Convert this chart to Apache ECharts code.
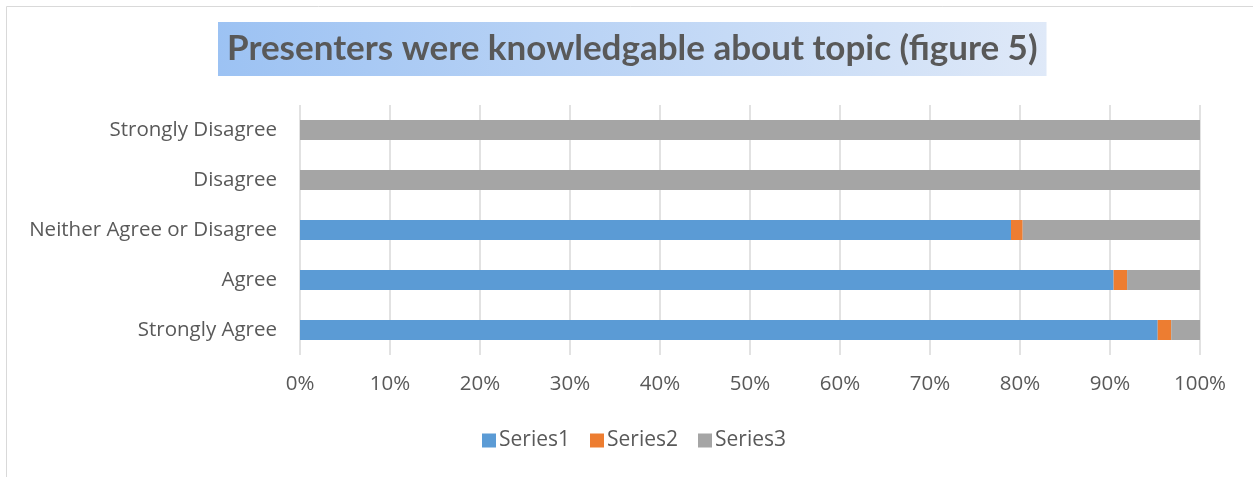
<!DOCTYPE html>
<html>
<head>
<meta charset="utf-8">
<script src="https://cdn.jsdelivr.net/npm/echarts@6/dist/echarts.min.js"></script>
<style>
  html, body { margin: 0; padding: 0; background: #fff; }
  #chart { width: 1253px; height: 477px; }
</style>
</head>
<body>
<div id="chart"></div>
<script>
// Response categories, bottom to top
const categories = ['Strongly Agree', 'Agree', 'Neither Agree or Disagree', 'Disagree', 'Strongly Disagree'];
// Share of responses (%) per category
const series1 = [95.3, 90.4, 79.0, 0, 0];
const series2 = [1.5, 1.5, 1.3, 0, 0];
const series3 = [3.2, 8.1, 19.7, 100, 100];
const seriesNames = ['Series1', 'Series2', 'Series3'];
const seriesColors = ['#5b9bd5', '#ed7d31', '#a5a5a5'];
const titleText = 'Presenters were knowledgable about topic (figure 5)';

const chart = echarts.init(document.getElementById('chart'));
const font = "'Open Sans', 'Noto Sans', sans-serif";

chart.setOption({
  animation: false,
  textStyle: { fontFamily: font },
  graphic: [{
    type: 'rect',
    shape: { x: 6.5, y: 6.5, width: 1300, height: 600 },
    style: { fill: 'none', stroke: '#d9d9d9', lineWidth: 1 },
    silent: true
  }],
  title: {
    text: titleText,
    left: 218,
    top: 22,
    padding: [7, 9, 7, 9],
    backgroundColor: new echarts.graphic.LinearGradient(0, 1, 1, 0, [
      { offset: 0, color: '#9cc2f3' },
      { offset: 1, color: '#dfe9f8' }
    ]),
    textStyle: {
      fontFamily: 'Lato, sans-serif',
      fontWeight: 'bold',
      fontSize: 35,
      lineHeight: 40,
      color: '#595959'
    }
  },
  legend: {
    data: seriesNames,
    left: 477,
    top: 425,
    itemWidth: 14,
    itemHeight: 14,
    itemGap: 20,
    icon: 'rect',
    textStyle: { fontSize: 21, color: '#595959', fontFamily: font, padding: [0, 0, 0, -2] }
  },
  grid: { left: 300, right: 53, top: 105, bottom: 122, containLabel: false },
  xAxis: {
    type: 'value',
    min: 0,
    max: 100,
    interval: 10,
    axisLine: { show: false },
    axisTick: { show: false },
    splitLine: { lineStyle: { color: '#d9d9d9', width: 1.5 } },
    axisLabel: {
      formatter: '{value}%',
      fontSize: 20.5,
      color: '#595959',
      margin: 19,
      fontFamily: font
    }
  },
  yAxis: {
    type: 'category',
    data: categories,
    axisLine: { show: false },
    axisTick: { show: false },
    axisLabel: { fontSize: 20.5, color: '#595959', margin: 23, fontFamily: font }
  },
  series: [series1, series2, series3].map((vals, i) => ({
    name: seriesNames[i],
    type: 'bar',
    stack: 'total',
    data: vals,
    barWidth: 20,
    itemStyle: { color: seriesColors[i] }
  }))
});
</script>
</body>
</html>
